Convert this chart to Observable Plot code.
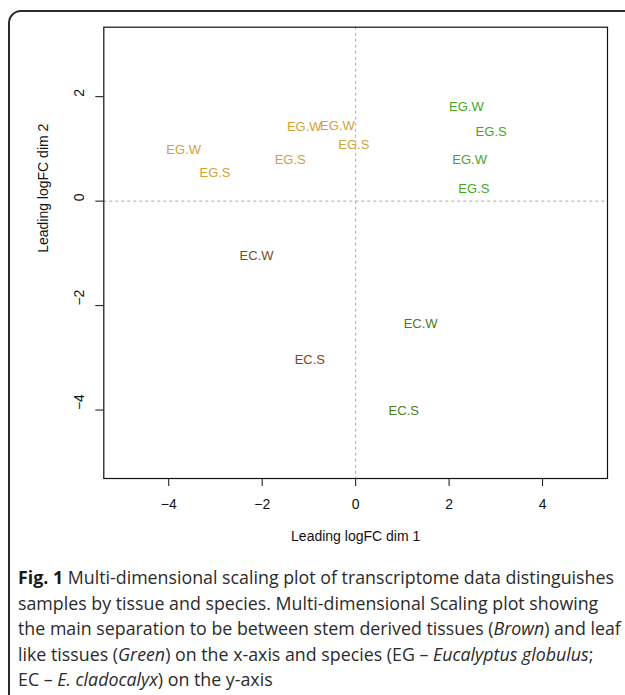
<!DOCTYPE html>
<html>
<head>
<meta charset="utf-8">
<script src="https://cdn.jsdelivr.net/npm/d3@7"></script>
<script src="https://cdn.jsdelivr.net/npm/@observablehq/plot@0.6"></script>
<style>
  html, body { margin: 0; padding: 0; width: 625px; height: 695px; overflow: hidden; background: #fff; }
  #box { position: absolute; left: 8px; top: 10px; width: 660px; height: 740px; border: 2px solid #2a2a2a; border-radius: 13px; box-sizing: border-box; }
  #chart { position: absolute; left: 0; top: 0; }
  #caption { position: absolute; left: 18px; top: 565px; font-family: "Open Sans", sans-serif; font-size: 18px; line-height: 25.5px; color: #2b2b2b; white-space: nowrap; transform-origin: 0 0; }
  #caption b { font-weight: 700; color: #1a1a1a; }
</style>
</head>
<body>
<div id="box"></div>
<div id="chart"></div>
<div id="caption"><b>Fig. 1</b> Multi-dimensional scaling plot of transcriptome data distinguishes<br>samples by tissue and species. Multi-dimensional Scaling plot showing<br>the main separation to be between stem derived tissues (<i>Brown</i>) and leaf<br>like tissues (<i>Green</i>) on the x-axis and species (EG – <i>Eucalyptus globulus</i>;<br>EC – <i>E. cladocalyx</i>) on the y-axis</div>
<script>
// sample labels and MDS coordinates
const sampleLabels = ["EG.W","EG.S","EG.S","EG.W","EG.W","EG.S","EG.W","EG.S","EG.W","EG.S","EC.W","EC.S","EC.W","EC.S"];
const dim1 = [-3.68,-3.01,-1.40,-1.10,-0.39,-0.04,2.37,2.90,2.44,2.53,1.39,1.03,-2.12,-0.98];
const dim2 = [0.98,0.54,0.79,1.43,1.44,1.08,1.81,1.33,0.79,0.245,-2.35,-4.01,-1.04,-3.04];
const groups = ["EG stem","EG stem","EG stem","EG stem","EG stem","EG stem","EG leaf","EG leaf","EG leaf","EG leaf","EC leaf","EC leaf","EC stem","EC stem"];
const groupNames = ["EG stem","EG leaf","EC leaf","EC stem"];
const groupColors = ["#d6a038","#48a61f","#4a7d1a","#7a4a1c"];
const xTicks = [-4,-2,0,2,4];
const yTicks = [-4,-2,0,2];
const xTitle = "Leading logFC dim 1";
const yTitle = "Leading logFC dim 2";

const data = sampleLabels.map((l, i) => ({label: l, x: dim1[i], y: dim2[i], group: groups[i]}));
const fmt = d => (d < 0 ? "\u2212" + Math.abs(d) : String(d));

const W = 625, H = 560;
const chart = Plot.plot({
  width: W,
  height: H,
  marginLeft: 103.3,
  marginRight: 18,
  marginTop: 26.7,
  marginBottom: H - 478,
  style: {fontFamily: "'Liberation Sans', Arial, sans-serif", background: "transparent", overflow: "visible"},
  x: {domain: [-5.39, 5.39]},
  y: {domain: [-5.31, 3.33]},
  color: {domain: groupNames, range: groupColors},
  marks: [
    Plot.ruleX([0], {stroke: "#a8a8a8", strokeDasharray: "3,3", strokeWidth: 1}),
    Plot.ruleY([0], {stroke: "#a8a8a8", strokeDasharray: "3,3", strokeWidth: 1}),
    Plot.frame({stroke: "#111", strokeWidth: 1.2}),
    Plot.axisX({ticks: xTicks, tickSize: 8, tickPadding: 13, fontSize: 14, tickFormat: fmt, label: null, stroke: "#111", color: "#111"}),
    Plot.axisY({ticks: yTicks, tickSize: 8, tickFormat: () => "", label: null, stroke: "#111"}),
    Plot.text(yTicks, {y: d => d, text: d => fmt(d), frameAnchor: "left", dx: -24, rotate: -90, fontSize: 14, fill: "#111"}),
    Plot.text([xTitle], {text: d => d, frameAnchor: "bottom", dy: 62.3, fontSize: 14, fill: "#111"}),
    Plot.text([yTitle], {text: d => d, frameAnchor: "left", dx: -60, rotate: -90, fontSize: 14, fill: "#111"}),
    Plot.text(data, {x: "x", y: "y", text: "label", fill: "group", fontSize: 13})
  ]
});
document.getElementById("chart").appendChild(chart);

// fit caption width to the reference's line length
const cap = document.getElementById("caption");
const range = document.createRange();
const firstBr = cap.querySelector("br");
range.setStart(cap, 0);
range.setEndBefore(firstBr);
const w1 = range.getBoundingClientRect().width;
cap.style.transform = `scaleX(${596 / w1})`;
</script>
</body>
</html>
